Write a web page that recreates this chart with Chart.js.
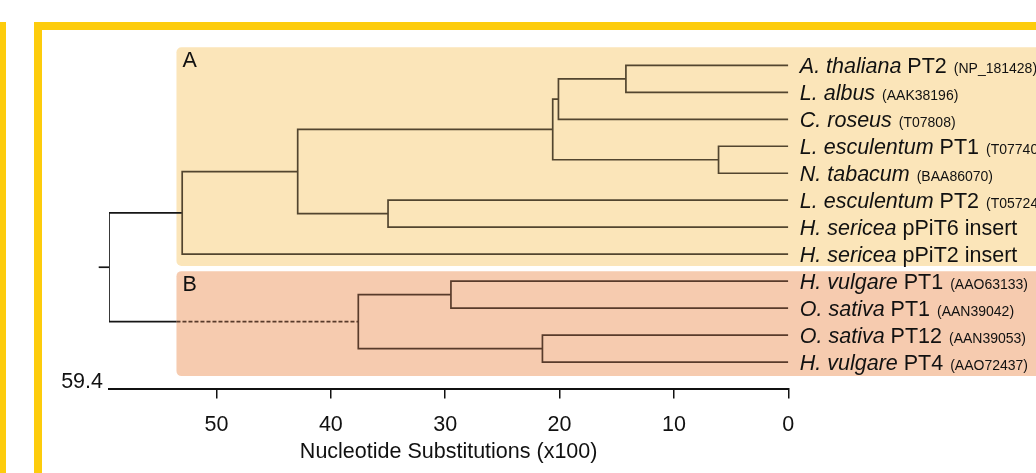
<!DOCTYPE html>
<html>
<head>
<meta charset="utf-8">
<script src="https://cdn.jsdelivr.net/npm/chart.js@4/dist/chart.umd.min.js"></script>
<style>
  html, body { margin: 0; padding: 0; background: #fff; overflow: hidden; }
  #wrap { position: relative; width: 1036px; height: 473px; overflow: hidden; }
  .bar { position: absolute; left: 0; top: 22px; width: 6px; height: 470px; background: #fdcc0c; }
  .frame { position: absolute; left: 34px; top: 22px; width: 1100px; height: 600px; border: 8px solid #fdcc0c; }
  #chartBox { position: absolute; left: 0; top: 0; width: 1036px; height: 473px; }
</style>
</head>
<body>
<div id="wrap">
  <div class="bar"></div>
  <div class="frame"></div>
  <div id="chartBox"><canvas id="tree"></canvas></div>
</div>
<script>
// leaves, top to bottom
const leafSpecies = ['A. thaliana', 'L. albus', 'C. roseus', 'L. esculentum', 'N. tabacum', 'L. esculentum',
    'H. sericea', 'H. sericea', 'H. vulgare', 'O. sativa', 'O. sativa', 'H. vulgare'];
const leafGenes = ['PT2', '', '', 'PT1', '', 'PT2', 'pPiT6 insert', 'pPiT2 insert', 'PT1', 'PT1', 'PT12', 'PT4'];
const leafAccessions = ['(NP_181428)', '(AAK38196)', '(T07808)', '(T07740)', '(BAA86070)', '(T05724)', '', '',
    '(AAO63133)', '(AAN39042)', '(AAN39053)', '(AAO72437)'];

// internal nodes (ids 12..22), children refer to leaf index or node id
const nodeChildren = [
    [0, 1],     // 12
    [12, 2],    // 13
    [3, 4],     // 14
    [13, 14],   // 15
    [5, 6],     // 16
    [15, 16],   // 17
    [17, 7],    // 18 clade A
    [8, 9],     // 19
    [10, 11],   // 20
    [19, 20],   // 21 clade B
    [18, 21]    // 22 root
];
const nodeHeights = [14.2, 20.1, 6.1, 20.6, 35.0, 42.9, 53.0, 29.5, 21.5, 37.6, 59.4];
const nodeClade = ['A', 'A', 'A', 'A', 'A', 'A', 'A', 'B', 'B', 'B', 'root'];
const rootHeight = 59.4;
const rootStem = 0.9;
const dashedFrom = 53.5;   // clade B branch is dashed from here on
const tickValues = [0, 10, 20, 30, 40, 50];

const FONT = "'Liberation Sans', Arial, sans-serif";
const SIZE = 21.5;
const cladeColors = {A: '#52452f', B: '#583b2b', root: '#161616'};

// layout of the tree: x = height, y = leaf order
const hx = [], yy = [];
leafSpecies.forEach((s, i) => { hx[i] = 0; yy[i] = i; });
nodeChildren.forEach((c, k) => {
    const id = leafSpecies.length + k;
    hx[id] = nodeHeights[k];
    yy[id] = (yy[c[0]] + yy[c[1]]) / 2;
});

const datasets = [];
const lineDs = (data, color, extra) => Object.assign({
    data: data, showLine: true, borderColor: color, borderWidth: 1.7,
    pointRadius: 0, fill: false, tension: 0
}, extra || {});

nodeChildren.forEach((c, k) => {
    const id = leafSpecies.length + k;
    const [a, b] = c;
    if (nodeClade[k] !== 'root') {
        datasets.push(lineDs([
            {x: hx[a], y: yy[a]}, {x: hx[id], y: yy[a]},
            {x: hx[id], y: yy[b]}, {x: hx[b], y: yy[b]}
        ], cladeColors[nodeClade[k]]));
    } else {
        datasets.push(lineDs([
            {x: hx[a], y: yy[a]}, {x: hx[id], y: yy[a]},
            {x: hx[id], y: yy[b]}, {x: dashedFrom, y: yy[b]}
        ], cladeColors.root));
        datasets.push(lineDs([
            {x: dashedFrom, y: yy[b]}, {x: hx[b], y: yy[b]}
        ], cladeColors.B, {borderDash: [4, 2]}));
        datasets.push(lineDs([
            {x: hx[id], y: yy[id]}, {x: hx[id] + rootStem, y: yy[id]}
        ], cladeColors.root, {clip: false}));
    }
});

const treeDecor = {
    id: 'treeDecor',
    beforeDatasetsDraw(chart) {
        const {ctx, scales: {x, y}} = chart;
        const boxes = [
            {label: 'A', from: 0, to: 7, padTop: 0.67, padBot: 0.44, color: '#fbe5b9'},
            {label: 'B', from: 8, to: 11, padTop: 0.37, padBot: 0.52, color: '#f6cbaf'}
        ];
        ctx.save();
        boxes.forEach(b => {
            const left = x.getPixelForValue(dashedFrom);
            const top = y.getPixelForValue(b.from - b.padTop);
            const bot = y.getPixelForValue(b.to + b.padBot);
            ctx.fillStyle = b.color;
            ctx.beginPath();
            ctx.roundRect(left, top, chart.width + 20 - left, bot - top, 5);
            ctx.fill();
            ctx.fillStyle = '#111';
            ctx.font = SIZE + 'px ' + FONT;
            ctx.textBaseline = 'alphabetic';
            ctx.textAlign = 'left';
            ctx.fillText(b.label, left + 6, top + 20);
        });
        ctx.restore();
    },
    afterDraw(chart) {
        const {ctx, chartArea, scales: {x, y}} = chart;
        ctx.save();
        ctx.fillStyle = '#111';
        ctx.textAlign = 'left';
        ctx.textBaseline = 'alphabetic';
        const x0 = x.getPixelForValue(0) + 11.5;
        leafSpecies.forEach((sp, i) => {
            const base = y.getPixelForValue(i) + 7.7;
            let cx = x0;
            ctx.font = 'italic ' + SIZE + 'px ' + FONT;
            ctx.fillText(sp, cx, base);
            cx += ctx.measureText(sp + ' ').width;
            ctx.font = SIZE + 'px ' + FONT;
            if (leafGenes[i]) {
                ctx.fillText(leafGenes[i], cx, base);
                cx += ctx.measureText(leafGenes[i] + ' ').width;
            }
            if (leafAccessions[i]) {
                ctx.font = '14px ' + FONT;
                ctx.fillText(leafAccessions[i], cx + 1, base);
            }
        });
        ctx.font = SIZE + 'px ' + FONT;
        ctx.textAlign = 'right';
        ctx.fillText(String(rootHeight), chartArea.left - 6, chartArea.bottom - 1);
        ctx.restore();
    }
};

new Chart(document.getElementById('tree'), {
    type: 'scatter',
    data: {datasets: datasets},
    options: {
        responsive: true,
        maintainAspectRatio: false,
        animation: false,
        layout: {padding: {left: 109, right: 247.7, top: 47, bottom: 0}},
        plugins: {legend: {display: false}, tooltip: {enabled: false}},
        scales: {
            x: {
                type: 'linear',
                reverse: true,
                min: 0,
                max: rootHeight,
                afterBuildTicks: s => { s.ticks = tickValues.map(v => ({value: v})); },
                afterFit: s => { s.height = 84.5; },
                ticks: {color: '#111', font: {family: FONT, size: SIZE}, padding: 14},
                grid: {display: true, drawOnChartArea: false, drawTicks: true, tickLength: 10, color: '#111', lineWidth: 1.5},
                border: {display: true, color: '#111', width: 2},
                title: {
                    display: true,
                    text: 'Nucleotide Substitutions (x100)',
                    color: '#111',
                    font: {family: FONT, size: SIZE},
                    padding: {top: 0, bottom: 8}
                }
            },
            y: {
                type: 'linear',
                display: false,
                reverse: true,
                min: -0.68,
                max: 11.98
            }
        }
    },
    plugins: [treeDecor]
});
</script>
</body>
</html>
